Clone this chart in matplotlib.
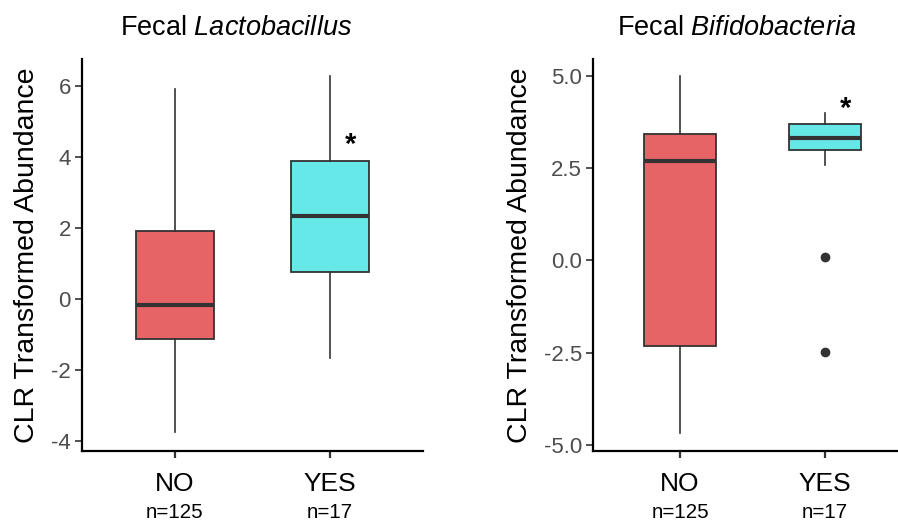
import matplotlib
matplotlib.use("Agg")
import matplotlib.pyplot as plt
import matplotlib.transforms as mtransforms

plt.rcParams['font.family'] = ['Liberation Sans', 'DejaVu Sans']
plt.rcParams['mathtext.fontset'] = 'custom'
plt.rcParams['mathtext.rm'] = 'Liberation Sans'
plt.rcParams['mathtext.it'] = 'Liberation Sans:italic'
plt.rcParams['mathtext.bf'] = 'Liberation Sans:bold'

categories = ["NO", "YES"]
n_labels = ["n=125", "n=17"]
colors = ["#E66466", "#66E8E8"]

# Lactobacillus: (whislo, q1, med, q3, whishi)
lacto_NO = [-3.75, -1.12, -0.17, 1.92, 5.92]
lacto_YES = [-1.66, 0.76, 2.34, 3.89, 6.28]
lacto_out_NO = []
lacto_out_YES = []

bifido_NO = [-4.66, -2.31, 2.68, 3.43, 4.98]
bifido_YES = [2.57, 3.00, 3.31, 3.70, 4.00]
bifido_out_NO = []
bifido_out_YES = [0.10, -2.48]

lacto_ticks = [-4, -2, 0, 2, 4, 6]
bifido_ticks = [-5.0, -2.5, 0.0, 2.5, 5.0]

star_lacto = (2.13, 4.33)
star_bifido = (2.14, 4.09)

fig = plt.figure(figsize=(8.98, 5.32), dpi=100)

def make_stats(vals, outs, label):
    lo, q1, med, q3, hi = vals
    return dict(whislo=lo, q1=q1, med=med, q3=q3, whishi=hi, fliers=outs, label=label)

def panel(rect, no, yes, out_no, out_yes, ylim, ticks, ticklabels, star):
    ax = fig.add_axes(rect)
    stats = [make_stats(no, out_no, categories[0]), make_stats(yes, out_yes, categories[1])]
    bp = ax.bxp(stats, positions=[1, 2], widths=0.5, patch_artist=True, showcaps=False,
                boxprops=dict(edgecolor="#333333", linewidth=1.3),
                whiskerprops=dict(color="#333333", linewidth=1.2),
                medianprops=dict(color="#333333", linewidth=3),
                flierprops=dict(marker='o', markerfacecolor="#333333", markeredgecolor="#333333", markersize=6))
    for patch, c in zip(bp['boxes'], colors):
        patch.set_facecolor(c)
    ax.set_xlim(0.4, 2.6)
    ax.set_ylim(*ylim)
    ax.set_yticks(ticks)
    ax.set_yticklabels(ticklabels)
    ax.set_xticks([1, 2])
    ax.set_xticklabels(categories)
    for s in ['top', 'right']:
        ax.spines[s].set_visible(False)
    for s in ['left', 'bottom']:
        ax.spines[s].set_linewidth(1.6)
        ax.spines[s].set_color('black')
    ax.tick_params(axis='y', labelsize=16, labelcolor='#4D4D4D', length=5, width=1.2, color='#333333', pad=3)
    ax.tick_params(axis='x', labelsize=19, labelcolor='black', length=5, width=1.6, color='#333333', pad=10)
    ax.set_ylabel("CLR Transformed Abundance", fontsize=20.5, labelpad=8)
    trans = mtransforms.blended_transform_factory(ax.transData, ax.transAxes)
    for i, nl in enumerate(n_labels):
        ax.text(i + 1, -0.158, nl, transform=trans, ha='center', va='center', fontsize=14.8)
    ax.text(star[0], star[1], "*", ha='center', va='center', fontsize=21, fontweight='bold')
    return ax

ax1 = panel([0.0913, 0.1523, 0.3797, 0.7368], lacto_NO, lacto_YES, lacto_out_NO, lacto_out_YES,
            (-4.28, 6.76), lacto_ticks, [str(t) for t in lacto_ticks], star_lacto)
ax2 = panel([0.6604, 0.1523, 0.3552, 0.7368], bifido_NO, bifido_YES, bifido_out_NO, bifido_out_YES,
            (-5.16, 5.45), bifido_ticks, ["%.1f" % t for t in bifido_ticks], star_bifido)

fig.text(236 / 898, 1 - 28 / 532, r"Fecal $\mathit{Lactobacillus}$", ha='center', va='center', fontsize=19.5)
fig.text(737 / 898, 1 - 28 / 532, r"Fecal $\mathit{Bifidobacteria}$", ha='center', va='center', fontsize=19.5)

fig.savefig("out.png", dpi=100)
